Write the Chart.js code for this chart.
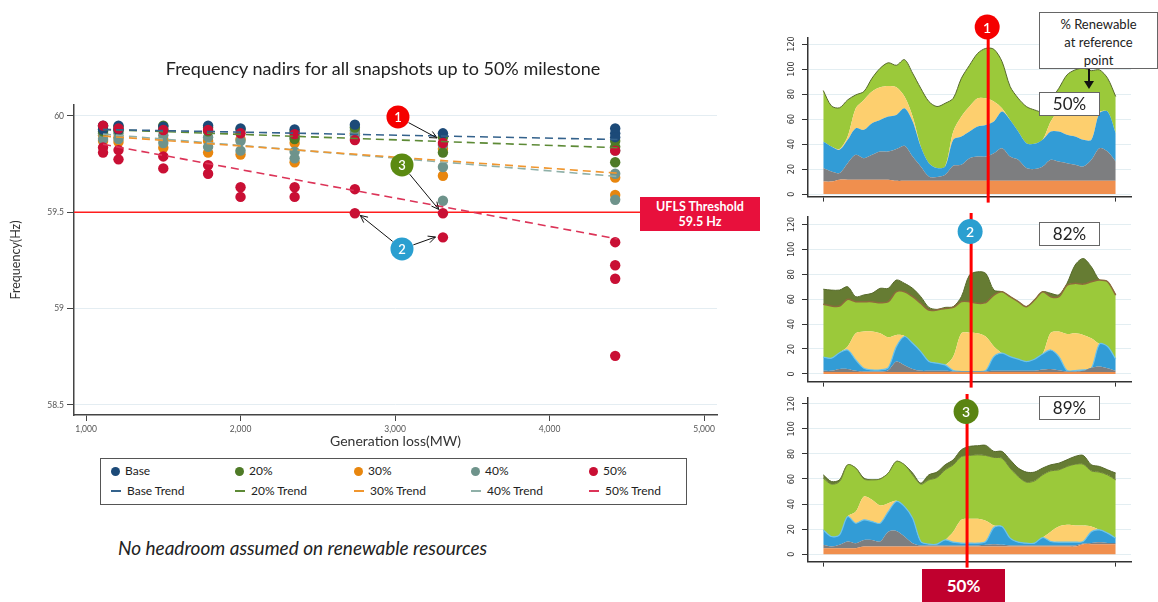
<!DOCTYPE html>
<html>
<head>
<meta charset="utf-8">
<script src="https://cdn.jsdelivr.net/npm/chart.js@4.4.1/dist/chart.umd.min.js"></script>
<style>
  body { margin: 0; width: 1158px; height: 602px; position: relative; background: #fff; overflow: hidden; font-family: Lato, 'Open Sans', sans-serif; color: #222; }
  .abs { position: absolute; }
  #title { left: 0; width: 766px; top: 57px; text-align: center; font-size: 18px; }
  #ufls { left: 640px; top: 197px; width: 120px; height: 34px; background: #e8103c; color: #fff; font-weight: bold; font-size: 12.5px; line-height: 15px; text-align: center; padding-top: 2px; box-sizing: border-box; }
  #legend { left: 100px; top: 458px; width: 587px; height: 47px; border: 1.5px solid #555; box-sizing: border-box; font-size: 12px; }
  .lg { position: absolute; white-space: nowrap; line-height: 14px; }
  .dot { display: inline-block; width: 9px; height: 9px; border-radius: 50%; vertical-align: -1px; margin-right: 5px; }
  .seg { display: inline-block; width: 10px; height: 2px; vertical-align: 3px; margin-right: 6px; }
  #caption { left: 118px; top: 536px; font-style: italic; font-size: 19px; }
  .box { background: #fff; border: 1px solid #666; text-align: center; box-sizing: border-box; }
  #renew { left: 1039px; top: 12px; width: 119px; height: 57px; font-size: 13px; line-height: 18px; padding-top: 2px; }
  .pct { width: 61px; height: 24px; font-size: 17px; line-height: 22px; }
  #arrowStem { left: 1088px; top: 69px; width: 2px; height: 14px; background: #111; }
  #arrowHead { left: 1084px; top: 81px; width: 0; height: 0; border-left: 5px solid transparent; border-right: 5px solid transparent; border-top: 8px solid #111; }
  #milestone { left: 922px; top: 569px; width: 83px; height: 33px; background: #c0002e; color: #fff; font-weight: bold; font-size: 17px; line-height: 33px; text-align: center; }
</style>
</head>
<body>
<canvas id="nadir" class="abs" width="770" height="450" style="left:0;top:0"></canvas>
<canvas id="mix1" class="abs" width="388" height="205" style="left:770px;top:0"></canvas>
<canvas id="mix2" class="abs" width="388" height="190" style="left:770px;top:200px"></canvas>
<canvas id="mix3" class="abs" width="388" height="185" style="left:770px;top:385px"></canvas>

<div id="title" class="abs">Frequency nadirs for all snapshots up to 50% milestone</div>
<div id="ufls" class="abs">UFLS Threshold<br>59.5 Hz</div>
<div id="legend" class="abs"></div>
<div id="caption" class="abs">No headroom assumed on renewable resources</div>
<div id="renew" class="abs box">% Renewable<br>at reference<br>point</div>
<div id="arrowStem" class="abs"></div>
<div id="arrowHead" class="abs"></div>
<div class="abs box pct" style="left:1039px;top:92px">50%</div>
<div class="abs box pct" style="left:1039px;top:222px">82%</div>
<div class="abs box pct" style="left:1039px;top:396px">89%</div>
<div id="milestone" class="abs">50%</div>

<script>
// ---------- left chart data: frequency nadir (Hz) vs generation loss (MW) ----------
const genLoss = [1110, 1210, 1500, 1790, 2000, 2350, 2740, 3310, 4425];
const nadirBase = [[59.95, 59.93], [59.95, 59.93], [59.945], [59.95], [59.935], [59.93], [59.955], [59.91], [59.935, 59.91, 59.89]];
const nadir20 = [[59.945, 59.92], [59.945, 59.925], [59.95, 59.93], [59.94, 59.92], [59.93], [59.92, 59.88], [59.94], [59.89, 59.81], [59.87, 59.84, 59.76]];
const nadir30 = [[59.87, 59.90], [59.865, 59.89], [59.835, 59.88], [59.81, 59.87], [59.80, 59.88], [59.76, 59.86], [59.91], [59.69, 59.83], [59.68, 59.59]];
const nadir40 = [[59.88, 59.91, 59.93], [59.88, 59.91], [59.86, 59.90], [59.84, 59.89], [59.82, 59.87], [59.815, 59.78, 59.89], [59.925, 59.90], [59.735, 59.56, 59.85], [59.70, 59.565, 59.82]];
const nadir50 = [[59.95, 59.837, 59.81], [59.935, 59.823, 59.775], [59.927, 59.79, 59.728], [59.927, 59.745, 59.70], [59.91, 59.63, 59.58], [59.906, 59.63, 59.58], [59.875, 59.62, 59.495], [59.86, 59.495, 59.37], [59.82, 59.345, 59.225, 59.155, 58.755]];

const trendX = [1110, 4440];
const trendBase = [59.93, 59.878];
const trend20 = [59.93, 59.835];
const trend30 = [59.896, 59.703];
const trend40 = [59.906, 59.686];
const trend50 = [59.853, 59.362];

const freqTicks = [60, 59.5, 59, 58.5];
const lossTicks = [1000, 2000, 3000, 4000, 5000];
const uflsLevel = 59.5;

const seriesNames = ['Base', '20%', '30%', '40%', '50%'];
const seriesColors = ['#1c4a78', '#4e7a26', '#e8860e', '#6e938b', '#c90f34'];
const trendColors = ['#34628c', '#5d8a36', '#f0962e', '#8fb0a8', '#dc3458'];
const drawOrder = [2, 3, 5, 4, 1];

// ---------- right charts: generation stack, top of each layer (GW) ----------
const snapshots = [0, 1, 2, 3, 4, 5, 6, 7, 8, 9, 10, 11, 12, 13, 14, 15, 16, 17, 18, 19, 20, 21, 22, 23, 24, 25, 26, 27, 28, 29, 30, 31, 32, 33, 34, 35, 36];
const mixTicks = [0, 20, 40, 60, 80, 100, 120];

const m1Orange = [10, 10, 11.5, 11.5, 11.5, 11.5, 11.5, 11.5, 11.5, 10.6, 10.6, 10.6, 10.6, 10.6, 10.6, 10.6, 10.6, 10.6, 10.6, 10.6, 10.6, 10.6, 10.6, 10.6, 10.6, 10.6, 10.6, 10.6, 10.6, 10.6, 10.6, 10.6, 10.6, 10.6, 10.6, 10.6, 10.6];
const m1Grey = [20.8, 18, 16.8, 24.7, 31.4, 28.7, 31.4, 34, 34, 36, 38.6, 30, 22, 14, 13.6, 15.4, 22.6, 23.4, 28.7, 30, 30, 32.7, 36.7, 30, 27.4, 20.8, 20, 22, 27.4, 26, 24.7, 23.4, 22, 27.4, 36.7, 34, 26];
const m1Blue = [42, 38, 35.4, 43.4, 52.7, 51.4, 56.7, 59.3, 62, 63.3, 68.6, 58, 38, 24.7, 20.8, 22, 43.4, 46, 50, 54, 55.3, 58, 66, 59.3, 50, 40.7, 40.2, 43.4, 50, 50, 47.4, 46, 43.4, 43.4, 64.7, 66, 48.7];
const m1Yellow = [42, 38, 36, 46, 68.6, 75.3, 82, 85.4, 86.5, 85.4, 78, 62, 38, 24.7, 20.8, 22, 50, 62, 70, 76.6, 76.6, 74, 68.6, 59.3, 50, 40.7, 40.2, 43.4, 58, 67.3, 70, 70, 66, 63.3, 66, 66, 48.7];
const m1Green = [82.8, 70.5, 69, 75.3, 79.3, 82, 92.6, 100.6, 105, 103, 107.5, 96.6, 84.6, 74, 70, 72.6, 76.6, 92.6, 103, 112.5, 116.5, 115.8, 106, 86, 76.6, 70, 67.3, 66, 75.3, 84.6, 95.3, 99.3, 100.6, 98.7, 99.3, 92.6, 78];

const m2Orange = [1.5, 1.5, 1.5, 1.5, 1.5, 1.5, 1.5, 1.5, 1.5, 1.5, 1.5, 1.5, 1.5, 1.5, 1.5, 1.5, 1.5, 1.5, 1.5, 1.5, 1.5, 1.5, 1.5, 1.5, 1.5, 1.5, 1.5, 1.5, 1.5, 1.5, 1.5, 1.5, 1.5, 1.5, 1.5, 1.5, 1.5];
const m2Grey = [2.5, 2.5, 4, 4, 2.5, 2, 2, 2, 3, 9.9, 7, 4, 2.5, 2.5, 2.5, 2.5, 2, 2, 2, 2, 2, 2.5, 2.5, 2.5, 2.5, 2.5, 2.5, 3.5, 4, 3, 2, 2, 2.5, 5, 6, 4.5, 2.5];
const m2Blue = [13.4, 12.6, 17, 19.2, 11.2, 4.5, 3.2, 3.2, 5, 21.9, 30, 24.6, 17.9, 9.9, 8.6, 7.2, 2.7, 1.9, 1.9, 1.9, 2.7, 13.9, 16.6, 13.9, 11.8, 9.9, 11.8, 16, 19.2, 13.9, 2.7, 2.7, 3.2, 4.5, 24, 22, 11.8];
const m2Yellow = [13.4, 12.6, 17, 22, 32.6, 34, 34, 32.6, 29.4, 31.3, 30.5, 24.6, 17.9, 9.9, 8.6, 7.2, 13.9, 32.6, 33.1, 32.6, 30, 22, 16.6, 13.9, 11.8, 9.9, 11.8, 16, 33, 34, 32, 32.6, 31.3, 28.6, 24, 22, 11.8];
const m2Green = [56, 54.5, 54.5, 59.9, 58, 58, 58, 57.2, 58, 66, 66, 62, 56.7, 51.3, 51.3, 52.6, 53.4, 58, 58, 56.7, 57.2, 63.3, 66, 62, 58, 54, 59.3, 66, 62, 62, 71.3, 72.7, 72.1, 74, 75.4, 74, 63.3];
const m2Olive = [68, 67.3, 67.3, 70, 62, 63.4, 64.7, 68.7, 68.7, 75.4, 72.7, 68.7, 62, 53.4, 51.8, 53.4, 54, 62, 79.4, 82, 80.7, 67.3, 66, 62, 58, 54, 59.3, 66, 64.7, 63.5, 72.7, 87.4, 92.7, 86, 75.4, 74, 63.3];

const m3Orange = [4.8, 4.8, 4.8, 4.8, 4.8, 6.1, 6.1, 6.1, 6.1, 6.1, 6.1, 6.1, 6.1, 6.1, 6.1, 6.1, 6.1, 6.1, 6.1, 6.1, 6.1, 6.1, 6.1, 6.1, 6.1, 6.1, 6.1, 6.1, 6.1, 6.1, 6.1, 6.1, 8, 8, 8, 8, 8];
const m3Grey = [7.5, 6.1, 7.5, 10.1, 8.8, 11.4, 11.4, 10.1, 18, 18.6, 14.1, 8.8, 7, 7, 7, 7, 7, 7, 7, 7, 7.5, 8, 7.5, 7, 7, 7, 7, 7, 7, 7, 7, 7, 8.5, 9, 9.5, 9, 9];
const m3Blue = [19.4, 14.1, 15.4, 30, 24.7, 27.4, 26, 24.7, 34, 42, 38, 28.7, 10.1, 8, 8, 11.4, 9.6, 8.8, 8.8, 8.8, 10.1, 21.3, 22.1, 12.8, 9.6, 8.8, 8.8, 13.3, 10.1, 9.6, 9.6, 9.6, 10.1, 18, 19.4, 16.8, 12.8];
const m3Yellow = [19.4, 14.1, 15.4, 30, 34, 46, 43.4, 38.9, 40.7, 42.6, 38, 28.7, 10.1, 8, 8, 11.4, 18, 27.4, 28.2, 28.2, 26.6, 22.9, 22.1, 12.8, 9.6, 8.8, 8.8, 13.3, 18, 22.1, 23.4, 22.9, 22.9, 22.1, 19.4, 16.8, 12.8];
const m3Green = [60.7, 55.9, 58, 71.3, 68.7, 60, 59.3, 60, 64.7, 74, 71.3, 63.3, 55.9, 59.3, 61.2, 67.3, 71.3, 77.9, 78.8, 79.3, 78.8, 77.2, 76.6, 68.7, 62, 57.5, 58.5, 63.3, 66.5, 67.3, 70, 71.8, 71.8, 66.5, 65.5, 63.3, 59.3];
const m3Olive = [63.3, 58, 59.3, 71.3, 68.7, 60.7, 59.3, 60, 64.7, 74, 71.3, 64.7, 56.7, 63.3, 65.5, 71.3, 75.3, 83.3, 86, 86.5, 86.8, 82, 82, 75.3, 68.7, 65.5, 65.5, 68.7, 71.3, 72.6, 75.3, 78, 78.8, 71.3, 70, 67.3, 64.7];

// reference snapshot (index position) marked on each stack
const refSnapshot = [20.3, 18.2, 17.7];

// ---------- legend ----------
const legendEl = document.getElementById('legend');
const legendCols = [10, 134, 253, 370, 488];
seriesNames.forEach((name, i) => {
  const a = document.createElement('div');
  a.className = 'lg';
  a.style.left = legendCols[i] + 'px';
  a.style.top = '5px';
  a.innerHTML = '<span class="dot" style="background:' + seriesColors[i] + '"></span>' + name;
  legendEl.appendChild(a);
  const b = document.createElement('div');
  b.className = 'lg';
  b.style.left = legendCols[i] + 'px';
  b.style.top = '25px';
  b.innerHTML = '<span class="seg" style="background:' + trendColors[i] + '"></span>' + name + ' Trend';
  legendEl.appendChild(b);
});

// ---------- left chart ----------
function toPoints(cols) {
  const pts = [];
  cols.forEach((vals, i) => vals.forEach(v => pts.push({ x: genLoss[i], y: v })));
  return pts;
}
function toTrend(vals) {
  return trendX.map((x, i) => ({ x: x, y: vals[i] }));
}

const nadirSeries = [nadirBase, nadir20, nadir30, nadir40, nadir50];
const trendSeries = [trendBase, trend20, trend30, trend40, trend50];

const datasets = [];
trendSeries.forEach((t, i) => datasets.push({
  type: 'line', label: seriesNames[i] + ' Trend', data: toTrend(t),
  borderColor: trendColors[i], borderWidth: 1.6, borderDash: [8, 5],
  pointRadius: 0, fill: false, order: 0
}));
nadirSeries.forEach((s, i) => datasets.push({
  label: seriesNames[i], data: toPoints(s),
  backgroundColor: seriesColors[i], borderWidth: 0,
  pointRadius: 5.2, order: drawOrder[i]
}));

const callouts = [
  { n: '1', color: '#f50000', at: [3019, 59.995], to: [[3272, 59.886]] },
  { n: '3', color: '#5b8a12', at: [3045, 59.746], to: [[3283, 59.515]] },
  { n: '2', color: '#2a9fd0', at: [3045, 59.31], to: [[2775, 59.484], [3262, 59.372]] }
];

function badge(ctx, x, y, r, color, txt, size) {
  ctx.save();
  ctx.fillStyle = color;
  ctx.beginPath(); ctx.arc(x, y, r, 0, Math.PI * 2); ctx.fill();
  ctx.fillStyle = '#fff';
  ctx.font = '600 ' + size + 'px Lato, sans-serif';
  ctx.textAlign = 'center'; ctx.textBaseline = 'middle';
  ctx.fillText(txt, x, y + 1);
  ctx.restore();
}

function arrow(ctx, x1, y1, x2, y2) {
  const ang = Math.atan2(y2 - y1, x2 - x1);
  ctx.save();
  ctx.strokeStyle = '#111'; ctx.lineWidth = 1;
  ctx.beginPath(); ctx.moveTo(x1, y1); ctx.lineTo(x2, y2);
  ctx.moveTo(x2 - 8 * Math.cos(ang - 0.45), y2 - 8 * Math.sin(ang - 0.45));
  ctx.lineTo(x2, y2);
  ctx.lineTo(x2 - 8 * Math.cos(ang + 0.45), y2 - 8 * Math.sin(ang + 0.45));
  ctx.stroke();
  ctx.restore();
}

const uflsBoxLeft = 640;
const nadirDecor = {
  id: 'nadirDecor',
  beforeDatasetsDraw(chart) {
    const { ctx, chartArea, scales } = chart;
    const yy = scales.y.getPixelForValue(uflsLevel);
    ctx.save();
    ctx.strokeStyle = '#ff1d1d'; ctx.lineWidth = 1.6;
    ctx.beginPath(); ctx.moveTo(chartArea.left, yy); ctx.lineTo(uflsBoxLeft, yy); ctx.stroke();
    ctx.restore();
  },
  afterDatasetsDraw(chart) {
    const { ctx, scales } = chart;
    callouts.forEach(c => {
      const cx = scales.x.getPixelForValue(c.at[0]);
      const cy = scales.y.getPixelForValue(c.at[1]);
      c.to.forEach(t => {
        const tx = scales.x.getPixelForValue(t[0]);
        const ty = scales.y.getPixelForValue(t[1]);
        const a = Math.atan2(ty - cy, tx - cx);
        arrow(ctx, cx + 12 * Math.cos(a), cy + 12 * Math.sin(a), tx, ty);
      });
      badge(ctx, cx, cy, 11.5, c.color, c.n, 13);
    });
  }
};

const tickFont = { family: 'Lato, sans-serif', size: 8.5 };

new Chart(document.getElementById('nadir'), {
  type: 'scatter',
  data: { datasets: datasets },
  options: {
    responsive: false, animation: false, events: [],
    layout: { padding: { top: 105, right: 53, left: 0, bottom: 0 } },
    plugins: { legend: { display: false }, tooltip: { enabled: false } },
    scales: {
      x: {
        type: 'linear', min: 922, max: 5084,
        afterBuildTicks: s => { s.ticks = lossTicks.map(v => ({ value: v })); },
        afterFit: s => { s.height = 35; },
        ticks: { font: tickFont, color: '#555', padding: 3, maxRotation: 0,
          callback: v => v.toLocaleString('en-US') },
        grid: { drawOnChartArea: false, tickLength: 6, tickColor: '#444' },
        border: { color: '#444', width: 1.5 },
        title: { display: true, text: 'Generation loss(MW)', color: '#333',
          font: { family: 'Lato, sans-serif', size: 14 }, padding: { top: 0, bottom: 0 } }
      },
      y: {
        min: 58.448, max: 60.057,
        afterBuildTicks: s => { s.ticks = freqTicks.map(v => ({ value: v })); },
        afterFit: s => { s.width = 74; },
        ticks: { font: tickFont, color: '#555', padding: 3, callback: v => String(v) },
        grid: { color: '#e4edf2', lineWidth: 1, tickLength: 7, tickColor: '#444' },
        border: { color: '#444', width: 1.5 },
        title: { display: true, text: 'Frequency(Hz)', color: '#333',
          font: { family: 'Lato, sans-serif', size: 12.5 }, padding: { top: 8, bottom: 0 } }
      }
    }
  },
  plugins: [nadirDecor]
});

// ---------- right charts ----------
const layerColors = { orange: '#f08f4e', grey: '#7d7e80', blue: '#329cd6', yellow: '#fdcf6e', green: '#9bc93a', olive: '#667c33' };
const markerStyles = [
  { n: '1', color: '#f50000', badgeY: 27 },
  { n: '2', color: '#2a9fd0', badgeY: 31.5 },
  { n: '3', color: '#5a8412', badgeY: 26.5 }
];

function stackLayers(list) {
  return list.map((l, i) => ({
    data: l.data,
    backgroundColor: layerColors[l.key],
    borderColor: l.line || layerColors[l.key],
    borderWidth: l.line ? l.lw : 0,
    fill: i === 0 ? 'origin' : '-1',
    pointRadius: 0,
    tension: 0.3
  }));
}

function mixChart(id, layers, yMin, yMax, padTop, k) {
  const marker = {
    id: 'marker' + k,
    afterDraw(chart) {
      const { ctx, chartArea, scales } = chart;
      const x = scales.x.getPixelForValue(refSnapshot[k]);
      ctx.save();
      ctx.strokeStyle = '#ff0000'; ctx.lineWidth = 3;
      ctx.beginPath(); ctx.moveTo(x, padTop - 4); ctx.lineTo(x, chartArea.bottom + 6); ctx.stroke();
      ctx.restore();
      badge(ctx, x - 1, markerStyles[k].badgeY, 12.5, markerStyles[k].color, markerStyles[k].n, 14);
    }
  };
  return new Chart(document.getElementById(id), {
    type: 'line',
    data: { labels: snapshots, datasets: stackLayers(layers) },
    options: {
      responsive: false, animation: false, events: [],
      layout: { padding: { top: padTop, right: 27, left: 0, bottom: 0 } },
      plugins: { legend: { display: false }, tooltip: { enabled: false } },
      scales: {
        x: {
          type: 'linear', min: -1.88, max: 37.88,
          afterBuildTicks: s => { s.ticks = [{ value: snapshots[0] }, { value: snapshots[snapshots.length - 1] }]; },
          afterFit: s => { s.height = 8; },
          ticks: { display: false },
          grid: { drawOnChartArea: false, tickLength: 5, tickColor: '#333' },
          border: { color: '#333', width: 1.5 }
        },
        y: {
          min: yMin, max: yMax,
          afterBuildTicks: s => { s.ticks = mixTicks.map(v => ({ value: v })); },
          afterFit: s => { s.width = 38; },
          ticks: { minRotation: 90, maxRotation: 90, crossAlign: 'center', padding: 3, color: '#333',
            font: { family: "'Liberation Sans Narrow', 'DejaVu Sans Condensed', sans-serif", size: 9 } },
          grid: { color: '#e3eef2', tickLength: 6, tickColor: '#333' },
          border: { color: '#333', width: 1.5 }
        }
      }
    },
    plugins: [marker]
  });
}

mixChart('mix1', [
  { key: 'orange', data: m1Orange },
  { key: 'grey', data: m1Grey },
  { key: 'blue', data: m1Blue },
  { key: 'yellow', data: m1Yellow },
  { key: 'green', data: m1Green, line: '#56682c', lw: 1 }
], -2, 124.8, 38, 0);

mixChart('mix2', [
  { key: 'orange', data: m2Orange },
  { key: 'grey', data: m2Grey },
  { key: 'blue', data: m2Blue, line: '#6cc3ea', lw: 1.2 },
  { key: 'yellow', data: m2Yellow },
  { key: 'green', data: m2Green, line: '#8c6a3c', lw: 1.5 },
  { key: 'olive', data: m2Olive, line: '#56692a', lw: 1 }
], -6.2, 126, 17, 1);

mixChart('mix3', [
  { key: 'orange', data: m3Orange },
  { key: 'grey', data: m3Grey },
  { key: 'blue', data: m3Blue, line: '#6cc3ea', lw: 1.2 },
  { key: 'yellow', data: m3Yellow },
  { key: 'green', data: m3Green, line: '#6b7d38', lw: 1 },
  { key: 'olive', data: m3Olive, line: '#56692a', lw: 1 }
], -5.9, 124.6, 13, 2);
</script>
</body>
</html>
